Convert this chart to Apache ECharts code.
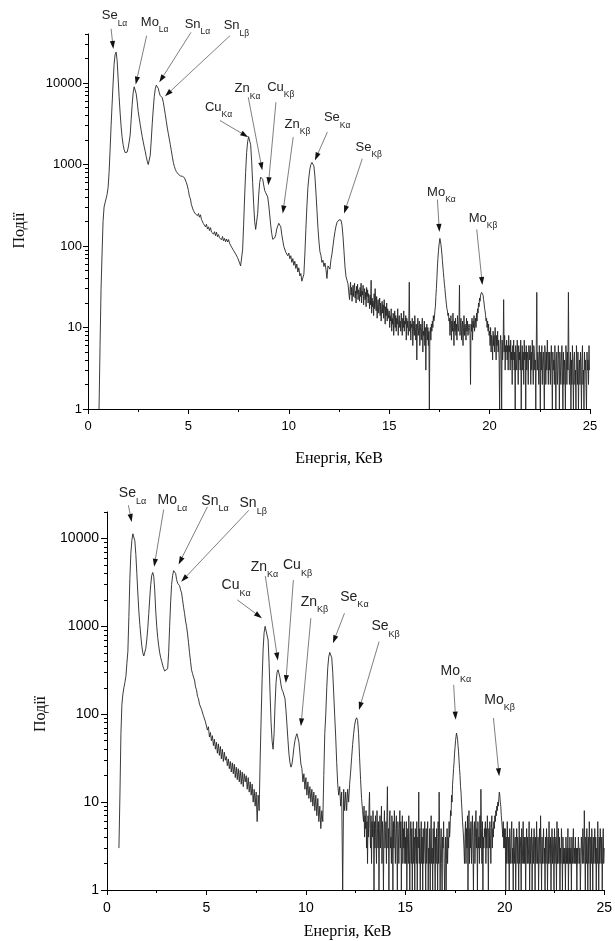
<!DOCTYPE html>
<html>
<head>
<meta charset="utf-8">
<script src="https://cdn.jsdelivr.net/npm/echarts@6/dist/echarts.min.js"></script>
<style>
  html, body { margin: 0; padding: 0; background: #fff; }
  #chart { width: 615px; height: 941px; }
</style>
</head>
<body>
<div id="chart"></div>
<script>
// energy steps, keV: coarse part of each spectrum and the noisy high-energy tail
const coarseStep = 0.05;
const fineStep = 0.025;

// upper spectrum, counts from 0.55 keV to 12.95 keV
const topStart = 0.55;
const topCounts = [
  1, 6, 30, 80, 200, 300, 340, 380, 430,
  520, 800, 1500, 3000, 5500, 10000, 17000, 22500, 24000, 19000, 11500, 6800, 4300, 2900, 2150, 1750, 1520, 1400, 1360, 1420,
  1600, 1900, 2300, 3600, 5500, 7600, 9000, 8800, 7400, 5900, 4500, 3700, 3100, 2600, 2200, 1900, 1650, 1450, 1250, 1100,
  1000, 980, 1300, 2000, 3200, 4800, 6800, 8500, 9400, 9600, 8600, 7600, 7000, 6900, 6600, 5800, 4900, 4100, 3400, 2800,
  2400, 2050, 1750, 1480, 1250, 1060, 950, 870, 820, 780, 760, 735, 725, 712, 718, 705, 690, 655, 600, 545,
  480, 410, 380, 322, 315, 272, 280, 248, 262, 236, 250, 226, 242, 212, 218, 188, 196, 172, 185, 162,
  172, 155, 168, 148, 156, 140, 150, 134, 148, 130, 138, 126, 133, 119, 131, 116, 124, 113, 122, 112,
  120, 108, 112, 97, 100, 88, 92, 80, 84, 72, 73, 62, 57, 60, 90, 180, 400, 800, 1400, 1900,
  2200, 2150, 1750, 1100, 600, 330, 200, 160, 156, 250, 420, 600, 700, 720, 660, 560, 480, 450, 440, 400,
  320, 240, 180, 142, 121, 118, 126, 138, 162, 176, 190, 188, 172, 138, 117, 99, 96, 84, 88, 76,
  82, 70, 76, 63, 70, 58, 65, 53, 60, 48, 54, 43, 46, 37, 35, 45, 80, 160, 300, 520,
  700, 880, 1000, 1060, 1070, 960, 720, 460, 280, 170, 115, 85, 77, 63, 67, 56, 62, 52, 40, 57,
  60, 52, 68, 80, 100, 125, 150, 175, 195, 205, 210, 212, 208, 180, 130, 85, 55, 42, 38, 34
];
// upper spectrum tail, counts from 13.000 keV to 25.000 keV
const topTailStart = 13.0;
const topTailCounts = [
  34, 22, 29, 36, 25, 31, 21, 27, 33, 24, 30, 35, 23, 28, 20, 32, 26, 34, 22, 29,
  27, 21, 31, 24, 35, 20, 28, 25, 33, 19, 26, 30, 22, 27, 18, 31, 24, 29, 20, 26,
  22, 17, 25, 19, 38, 15, 23, 18, 21, 14, 26, 17, 30, 20, 16, 24, 13, 19, 22, 15,
  18, 23, 14, 20, 12, 17, 21, 15, 19, 13, 22, 16, 11, 18, 14, 20, 12, 17, 15, 13,
  16, 10, 14, 12, 17, 9, 13, 11, 15, 8, 12, 16, 10, 14, 9, 13, 11, 17, 8, 12,
  14, 10, 12, 9, 15, 11, 8, 13, 10, 16, 9, 12, 11, 14, 7, 13, 10, 12, 8, 11,
  36, 9, 12, 7, 11, 10, 13, 6, 9, 12, 8, 14, 10, 7, 11, 4, 9, 13, 8, 10,
  12, 6, 9, 11, 7, 10, 13, 5, 9, 8, 12, 6, 10, 3, 9, 11, 7, 10, 6, 9,
  1, 8, 10, 7, 11, 9, 12, 10, 14, 12, 13, 16, 18, 24, 30, 40, 55, 70, 85, 100,
  112, 124, 118, 105, 92, 80, 66, 55, 47, 40, 34, 30, 25, 22, 19, 17, 16, 14, 15, 12,
  13, 8, 11, 14, 7, 12, 9, 15, 10, 6, 12, 9, 13, 8, 11, 7, 14, 10, 9, 12,
  33, 8, 11, 13, 7, 10, 12, 6, 9, 14, 8, 11, 10, 7, 13, 9, 12, 8, 10, 11,
  10, 8, 2, 11, 9, 13, 7, 12, 10, 14, 9, 11, 13, 10, 15, 12, 17, 15, 20, 18,
  23, 21, 25, 24, 27, 26, 28, 25, 22, 20, 17, 16, 14, 12, 13, 10, 12, 9, 11, 8,
  9, 6, 10, 5, 8, 7, 4, 9, 6, 8, 5, 10, 7, 4, 8, 6, 9, 5, 7, 4,
  1, 6, 8, 5, 1, 7, 4, 6, 22, 5, 8, 3, 6, 5, 7, 4, 6, 3, 8, 5,
  6, 3, 7, 4, 5, 2, 6, 4, 7, 3, 5, 1, 6, 4, 3, 7, 5, 2, 6, 4,
  5, 3, 7, 1, 4, 6, 3, 5, 2, 7, 4, 5, 1, 6, 3, 5, 4, 2, 6, 5,
  4, 6, 2, 5, 3, 7, 4, 2, 6, 5, 3, 4, 1, 6, 27, 3, 5, 4, 2, 6,
  4, 1, 5, 3, 6, 2, 4, 5, 3, 1, 6, 4, 2, 5, 3, 7, 4, 2, 5, 3,
  5, 2, 4, 6, 3, 1, 5, 3, 4, 2, 6, 3, 1, 4, 5, 2, 3, 6, 4, 1,
  5, 3, 2, 4, 6, 3, 1, 5, 2, 4, 3, 1, 6, 4, 2, 5, 3, 27, 4, 2,
  3, 5, 1, 4, 2, 6, 3, 1, 4, 5, 2, 3, 1, 6, 4, 2, 5, 1, 3, 4,
  2, 5, 3, 1, 4, 6, 2, 3, 1, 5, 3, 4, 2, 1, 5, 3, 4, 2, 6, 3,
  3
];

// lower spectrum, counts from 0.60 keV to 12.85 keV
const bottomStart = 0.60;
const bottomCounts = [
  3, 12, 60, 130, 170, 200, 230, 270,
  380, 520, 1300, 3500, 6800, 9500, 11300, 11600, 9400, 6600, 4000, 2400, 1500, 1050, 780, 600, 500, 460, 470, 560,
  700, 950, 1400, 2100, 3000, 3800, 4100, 3700, 2600, 1500, 1000, 750, 600, 500, 440, 400, 360, 330, 310, 300,
  310, 330, 500, 1000, 1900, 3000, 3800, 4300, 4400, 4000, 3400, 3100, 2950, 2900, 2600, 2400, 2000, 1650, 1400, 1150,
  1000, 820, 650, 500, 400, 320, 290, 265, 245, 205, 190, 160, 150, 130, 132, 114, 112, 96, 94, 82,
  84, 66, 72, 55, 62, 50, 57, 44, 52, 40, 48, 36, 46, 34, 43, 31, 40, 29, 37, 30,
  33, 26, 31, 24, 29, 22, 28, 21, 27, 19, 25, 18, 24, 17, 23, 16, 22, 15, 21, 17,
  20, 14, 19, 13, 17, 12, 16, 10, 14, 9, 13, 6, 12, 8, 30, 90, 250, 550, 850, 1000,
  1040, 1000, 700, 380, 170, 80, 50, 40, 60, 130, 230, 300, 320, 310, 260, 215, 190, 180, 175, 150,
  110, 75, 50, 35, 28, 25, 27, 33, 42, 50, 56, 60, 58, 48, 36, 27, 24, 17, 21, 14,
  19, 12, 17, 11, 15, 10, 14, 9, 13, 8, 12, 7, 11, 6, 9, 5, 8, 6, 20, 60,
  100, 200, 340, 450, 505, 516, 440, 300, 170, 95, 55, 28, 16, 12, 15, 9, 13, 1, 14, 8,
  13, 8, 14, 10, 16, 22, 32, 45, 60, 75, 86, 91, 85, 60, 32, 18, 11, 8
];
// lower spectrum tail, counts from 12.900 keV to 25.000 keV
const bottomTailStart = 12.9;
const bottomTailCounts = [
  6, 9, 4, 7,
  5, 8, 3, 6, 2, 7, 4, 9, 13, 5, 3, 7, 2, 6, 4, 8, 5, 1, 6, 3,
  7, 4, 2, 8, 5, 3, 6, 1, 4, 7, 3, 5, 9, 2, 6, 4, 1, 5, 8, 3,
  4, 6, 2, 7, 15, 3, 5, 1, 6, 8, 3, 4, 2, 7, 5, 1, 6, 3, 8, 4,
  2, 5, 7, 3, 1, 6, 4, 2, 5, 8, 3, 6, 1, 4, 7, 2, 5, 3, 6, 2,
  4, 2, 6, 1, 3, 5, 2, 7, 3, 1, 4, 6, 2, 5, 1, 3, 6, 2, 4, 1,
  5, 3, 2, 6, 1, 4, 3, 13, 2, 5, 1, 3, 6, 2, 4, 1, 5, 2, 3, 6,
  3, 1, 5, 2, 4, 6, 1, 3, 2, 5, 1, 4, 7, 2, 3, 1, 5, 2, 6, 3,
  1, 4, 2, 5, 3, 1, 6, 2, 13, 4, 1, 3, 5, 2, 1, 4, 3, 6, 2, 1,
  2, 4, 1, 3, 5, 2, 4, 3, 6, 4, 5, 8, 7, 12, 10, 16, 19, 24, 28, 36,
  42, 50, 56, 61, 58, 52, 44, 38, 30, 24, 20, 15, 13, 10, 8, 6, 5, 4, 3, 2,
  4, 6, 2, 5, 3, 7, 1, 4, 8, 2, 5, 3, 6, 2, 4, 7, 3, 1, 5, 6,
  2, 4, 8, 3, 5, 1, 6, 3, 4, 2, 7, 3, 14, 5, 2, 6, 1, 4, 3, 5,
  4, 6, 2, 5, 3, 7, 4, 1, 5, 3, 6, 4, 2, 5, 7, 3, 5, 4, 6, 5,
  7, 6, 8, 7, 9, 8, 10, 9, 11, 13, 12, 10, 9, 7, 6, 5, 4, 6, 3, 5,
  3, 5, 1, 4, 2, 6, 3, 2, 4, 1, 5, 3, 2, 4, 6, 2, 3, 1, 5, 3,
  2, 4, 1, 3, 5, 2, 4, 3, 1, 6, 2, 4, 3, 1, 5, 2, 3, 6, 2, 4,
  2, 4, 1, 3, 5, 2, 4, 2, 3, 6, 1, 4, 2, 3, 5, 1, 3, 4, 2, 5,
  3, 1, 4, 2, 6, 3, 2, 4, 1, 3, 5, 2, 7, 3, 1, 4, 2, 3, 5, 2,
  3, 1, 4, 2, 5, 3, 1, 4, 2, 6, 3, 2, 4, 1, 3, 5, 2, 4, 3, 1,
  5, 2, 3, 4, 1, 6, 2, 3, 5, 2, 4, 1, 3, 2, 5, 3, 1, 4, 2, 3,
  2, 3, 1, 4, 2, 3, 2, 5, 1, 3, 2, 4, 2, 3, 1, 4, 2, 3, 5, 2,
  3, 2, 4, 2, 3, 1, 3, 2, 4, 3, 2, 3, 1, 2, 4, 3, 2, 5, 3, 2,
  8, 3, 1, 4, 2, 5, 3, 1, 4, 2, 6, 3, 1, 4, 2, 5, 3, 1, 4, 2,
  3, 5, 2, 4, 1, 3, 2, 6, 3, 1, 4, 2, 5, 3, 2, 4, 1, 3, 5, 2,
  3
];

// axis ticks
const majorTicks = [1, 10, 100, 1000, 10000];
const minorTicks = [2, 3, 4, 5, 6, 7, 8, 9, 20, 30, 40, 50, 60, 70, 80, 90,
  200, 300, 400, 500, 600, 700, 800, 900, 2000, 3000, 4000, 5000, 6000, 7000, 8000, 9000,
  20000, 30000, 40000];

// peak annotations: element, line, label centre / arrow start / arrow tip as [keV, counts]
const peakNames = ['Se', 'Mo', 'Sn', 'Sn', 'Cu', 'Zn', 'Cu', 'Zn', 'Se', 'Se', 'Mo', 'Mo'];
const peakLines = ['Lα', 'Lα', 'Lα', 'Lβ', 'Kα', 'Kα', 'Kβ', 'Kβ', 'Kα', 'Kβ', 'Kα', 'Kβ'];

const topLabelAt = [[1.32, 67000], [3.32, 55500], [5.45, 53100], [7.39, 50600], [6.5, 5060], [7.94, 8490],
  [9.6, 8890], [10.43, 3100], [12.41, 3750], [13.98, 1640], [17.6, 460], [19.67, 218]];
const topArrowFrom = [[1.15, 46400], [2.92, 38100], [5.13, 41900], [7.07, 38100], [6.57, 3470], [7.98, 6700],
  [9.36, 5820], [10.22, 2170], [11.92, 2500], [13.66, 1180], [17.4, 372], [19.36, 160]];
const topArrowTo = [[1.26, 26200], [2.375, 9600], [3.55, 10200], [3.835, 6890], [7.98, 2170], [8.68, 850],
  [8.98, 556], [9.70, 251], [11.30, 1125], [12.75, 251], [17.5, 149], [19.64, 33.2]];

const bottomLabelAt = [[1.28, 32400], [3.29, 27200], [5.43, 26700], [7.35, 24900], [6.49, 2950], [7.92, 4760],
  [9.58, 4980], [10.43, 1900], [12.44, 2170], [14.01, 993], [17.54, 306], [19.74, 146]];
const bottomArrowFrom = [[1.075, 23900], [2.85, 21300], [5.05, 22900], [7.13, 20900], [6.55, 2000], [7.96, 3730],
  [9.37, 3370], [10.25, 1240], [11.94, 1410], [13.68, 670], [17.43, 216], [19.43, 90.6]];
const bottomArrowTo = [[1.244, 15400], [2.37, 4760], [3.60, 5070], [3.73, 3210], [7.79, 1240], [8.59, 408],
  [8.99, 226], [9.75, 72.8], [11.36, 643], [12.67, 112], [17.53, 86.7], [19.72, 19.7]];

function toPairs(start, step, counts) {
  return counts.map((c, i) => [+(start + i * step).toFixed(3), c]);
}

const sans = 'Liberation Sans';
const serif = 'Liberation Serif';

function xAxisFor(gridIndex, fontSize, nameGap, namePad) {
  return {
    type: 'value', gridIndex: gridIndex, min: 0, max: 25, interval: 5,
    axisLine: { onZero: false, lineStyle: { color: '#000', width: 1 } },
    axisTick: { length: 5, lineStyle: { color: '#000' } },
    minorTick: { show: true, splitNumber: 2, length: 3, lineStyle: { color: '#000' } },
    splitLine: { show: false },
    axisLabel: { fontFamily: sans, fontSize: fontSize, color: '#000', margin: 11 },
    name: 'Енергія, КеВ', nameLocation: 'middle', nameGap: nameGap,
    nameTextStyle: { fontFamily: serif, fontSize: 16, color: '#000', padding: namePad }
  };
}

function yAxesFor(gridIndex, max, fontSize, tickLen, margin, nameGap, namePad) {
  return [{
    type: 'log', logBase: 10, gridIndex: gridIndex, min: 1, max: max, position: 'left',
    axisLine: { show: true, lineStyle: { color: '#000', width: 1 } },
    axisTick: { show: true, length: tickLen, customValues: majorTicks, lineStyle: { color: '#000' } },
    axisLabel: {
      customValues: majorTicks, fontFamily: sans, fontSize: fontSize, color: '#000', margin: margin,
      formatter: v => (majorTicks.indexOf(Math.round(v)) >= 0 ? String(Math.round(v)) : '')
    },
    splitLine: { show: false },
    name: 'Події', nameLocation: 'middle', nameGap: nameGap,
    nameTextStyle: { fontFamily: serif, fontSize: 16, color: '#111', padding: namePad }
  }, {
    type: 'log', logBase: 10, gridIndex: gridIndex, min: 1, max: max, position: 'left',
    axisLine: { show: false },
    axisTick: { show: true, length: 3, customValues: minorTicks, lineStyle: { color: '#000' } },
    axisLabel: { show: false },
    splitLine: { show: false }
  }];
}

const chart = echarts.init(document.getElementById('chart'));

const topY = yAxesFor(0, 40000, 13, 5, 6, 60, [0, 18, 0, 0]);
const bottomY = yAxesFor(1, 20000, 14, 6, 8, 56, [0, 26, 0, 0]);

const lineStyle = { color: '#262626', width: 0.9 };

chart.setOption({
  animation: false,
  backgroundColor: '#fff',
  grid: [
    { left: 88, top: 34, width: 502, height: 375 },
    { left: 107, top: 512, width: 503, height: 378.5 }
  ],
  xAxis: [xAxisFor(0, 13, 42, [0, 0, 0, 0]), xAxisFor(1, 14, 34, [0, 16, 0, 0])],
  yAxis: [topY[0], topY[1], bottomY[0], bottomY[1]],
  series: [
    {
      type: 'line', xAxisIndex: 0, yAxisIndex: 0,
      data: toPairs(topStart, coarseStep, topCounts).concat(toPairs(topTailStart, fineStep, topTailCounts)),
      symbol: 'none', showSymbol: false, silent: true, lineStyle: lineStyle
    },
    {
      type: 'line', xAxisIndex: 1, yAxisIndex: 2,
      data: toPairs(bottomStart, coarseStep, bottomCounts).concat(toPairs(bottomTailStart, fineStep, bottomTailCounts)),
      symbol: 'none', showSymbol: false, silent: true, lineStyle: lineStyle
    }
  ]
});

// peak labels with arrows, placed through the axes of each grid
function annotations(seriesIndex, labelAt, arrowFrom, arrowTo, mainSize, subSize) {
  const out = [];
  for (let i = 0; i < peakNames.length; i++) {
    const p = chart.convertToPixel({ seriesIndex: seriesIndex }, labelAt[i]);
    const a = chart.convertToPixel({ seriesIndex: seriesIndex }, arrowFrom[i]);
    const b = chart.convertToPixel({ seriesIndex: seriesIndex }, arrowTo[i]);
    const dx = b[0] - a[0], dy = b[1] - a[1];
    const len = Math.hypot(dx, dy);
    const ux = dx / len, uy = dy / len;
    const head = 8, half = 2.6;
    const bx = b[0] - ux * head, by = b[1] - uy * head;
    out.push({
      type: 'line', silent: true,
      shape: { x1: a[0], y1: a[1], x2: bx, y2: by },
      style: { stroke: '#707070', lineWidth: 0.9 }
    });
    out.push({
      type: 'polygon', silent: true,
      shape: { points: [[b[0], b[1]], [bx - uy * half, by + ux * half], [bx + uy * half, by - ux * half]] },
      style: { fill: '#111' }
    });
    out.push({
      type: 'text', silent: true, x: p[0], y: p[1],
      style: {
        text: '{m|' + peakNames[i] + '}{s|' + peakLines[i] + '}',
        align: 'center', verticalAlign: 'middle',
        rich: {
          m: { fontSize: mainSize, lineHeight: mainSize + 11, fontFamily: sans, fill: '#222' },
          s: { fontSize: subSize, verticalAlign: 'bottom', fontFamily: sans, fill: '#222' }
        }
      }
    });
  }
  return out;
}

chart.setOption({
  graphic: {
    elements: annotations(0, topLabelAt, topArrowFrom, topArrowTo, 13, 8.5)
      .concat(annotations(1, bottomLabelAt, bottomArrowFrom, bottomArrowTo, 14, 9))
  }
});
</script>
</body>
</html>
